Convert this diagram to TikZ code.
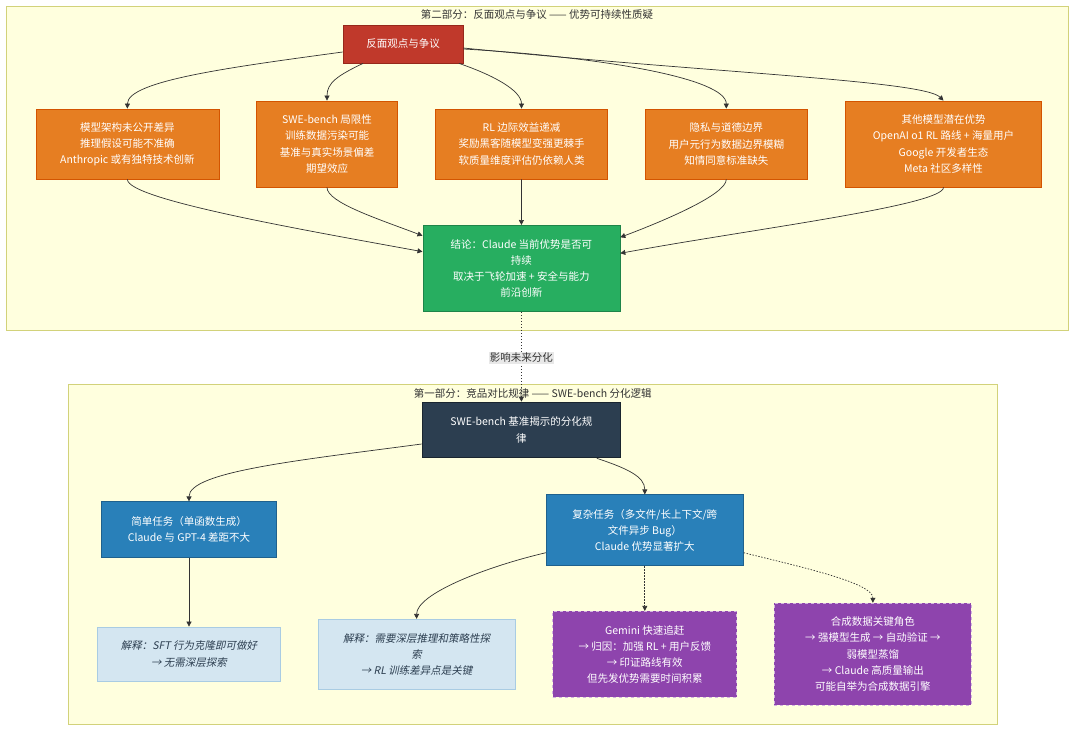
\documentclass[tikz,border=0pt]{standalone}
\usepackage{fontspec}
\setmainfont{Noto Sans CJK SC}
\newfontfamily\itfont[FakeSlant=0.2]{Noto Sans CJK SC}
\usetikzlibrary{arrows.meta}
\definecolor{clfill}{HTML}{FFFFDE}
\definecolor{cldraw}{HTML}{D2D27A}
\definecolor{redf}{HTML}{C0392B}
\definecolor{redd}{HTML}{96281B}
\definecolor{orf}{HTML}{E67E22}
\definecolor{ord}{HTML}{D35400}
\definecolor{grf}{HTML}{27AE60}
\definecolor{grd}{HTML}{1E8449}
\definecolor{dkf}{HTML}{2C3E50}
\definecolor{dkd}{HTML}{1A252F}
\definecolor{blf}{HTML}{2980B9}
\definecolor{bld}{HTML}{1F618D}
\definecolor{ltf}{HTML}{D4E6F1}
\definecolor{ltd}{HTML}{A9CCE3}
\definecolor{puf}{HTML}{8E44AD}
\definecolor{pud}{HTML}{D2B4DE}
\definecolor{edge}{HTML}{333333}
\tikzset{
  txt/.style={font=\fontsize{10.5}{16.2}\selectfont, align=center, inner sep=0pt},
  box/.style={txt, draw, line width=0.8pt, text=white},
  redbox/.style={box, fill=redf, draw=redd},
  orbox/.style={box, fill=orf, draw=ord},
  grbox/.style={box, fill=grf, draw=grd},
  dkbox/.style={box, fill=dkf, draw=dkd, line width=1.6pt},
  blbox/.style={box, fill=blf, draw=bld},
  ltbox/.style={txt, draw=ltd, fill=ltf, line width=0.8pt, text=dkf, font=\fontsize{10.5}{16.2}\itfont},
  pubox/.style={box, fill=puf, draw=pud, dashed},
  arr/.style={draw=edge, line width=0.7pt, -{Triangle[length=5pt,width=5pt]}},
  dotarr/.style={arr, dash pattern=on 1.5pt off 1.5pt},
  cluster/.style={fill=clfill, draw=cldraw, line width=0.9pt},
  cltitle/.style={txt, text=edge},
}
\begin{document}
\begin{tikzpicture}[x=1pt,y=-1pt]
\useasboundingbox (0,0) rectangle (1080,734);
% clusters
\draw[cluster] (6,6) rectangle (1068,330);
\node[cltitle] (t2) at (537,15) {第二部分：反面观点与争议 —— 优势可持续性质疑};
\draw[cluster] (68,384) rectangle (997,724);
\node[cltitle] (t1) at (532.7,393) {第一部分：竞品对比规律 —— SWE-bench 分化逻辑};

% top nodes
\node[redbox, minimum width=120, minimum height=38] (r) at (403,44) {反面观点与争议};
\node[orbox, minimum width=183, minimum height=70] (o1) at (127.4,144) {模型架构未公开差异\\推理假设可能不准确\\Anthropic 或有独特技术创新};
\node[orbox, minimum width=141, minimum height=86] (o2) at (327,144) {SWE-bench 局限性\\训练数据污染可能\\基准与真实场景偏差\\期望效应};
\node[orbox, minimum width=172, minimum height=70] (o3) at (521.5,144) {RL 边际效益递减\\奖励黑客随模型变强更棘手\\软质量维度评估仍依赖人类};
\node[orbox, minimum width=162, minimum height=70] (o4) at (726.3,144) {隐私与道德边界\\用户元行为数据边界模糊\\知情同意标准缺失};
\node[orbox, minimum width=196, minimum height=86] (o5) at (943.5,144) {其他模型潜在优势\\OpenAI o1 RL 路线 + 海量用户\\Google 开发者生态\\Meta 社区多样性};
\node[grbox, minimum width=197, minimum height=86] (g) at (521.4,268.4) {结论：Claude 当前优势是否可\\持续\\取决于飞轮加速 + 安全与能力\\前沿创新};

% bottom nodes
\node[dkbox, minimum width=198, minimum height=55] (d) at (521.4,430) {SWE-bench 基准揭示的分化规\\律};
\node[blbox, minimum width=175, minimum height=56] (s) at (189,529.8) {简单任务（单函数生成）\\Claude 与 GPT-4 差距不大};
\node[blbox, minimum width=197, minimum height=71] (c) at (644.8,530.3) {复杂任务（多文件/长上下文/跨\\文件异步 Bug）\\Claude 优势显著扩大};
\node[ltbox, minimum width=183, minimum height=54] (e1) at (189,654) {解释：SFT 行为克隆即可做好\\→ 无需深层探索};
\node[ltbox, minimum width=197, minimum height=70] (e2) at (416.6,654.3) {解释：需要深层推理和策略性探\\索\\→ RL 训练差异点是关键};
\node[pubox, minimum width=184, minimum height=86] (gm) at (644.8,654.3) {Gemini 快速追赶\\→ 归因：加强 RL + 用户反馈\\→ 印证路线有效\\但先发优势需要时间积累};
\node[pubox, minimum width=197, minimum height=102] (sy) at (872.9,654.2) {合成数据关键角色\\→ 强模型生成 → 自动验证 →\\弱模型蒸馏\\→ Claude 高质量输出\\可能自举为合成数据引擎};

% top edges
\draw[arr] ([yshift=-8]r.west) .. controls +(-110,15) and +(0,-28) .. (o1.north);
\draw[arr] ([xshift=-40]r.south) .. controls +(-25,12) and +(0,-18) .. (o2.north);
\draw[arr] ([xshift=56]r.south) .. controls +(35,12) and +(0,-18) .. (o3.north);
\draw[arr] ([yshift=-5]r.east) .. controls +(140,8) and +(0,-30) .. (o4.north);
\draw[arr] ([yshift=-4]r.east) .. controls +(250,25) and +(-20,-20) .. (o5.north);

\draw[arr] (o1.south) .. controls +(0,20) and +(-120,-22) .. ([yshift=16.7]g.west);
\draw[arr] (o2.south) .. controls +(0,15) and +(-45,-17) .. ([yshift=32.7]g.west);
\draw[arr] (o3.south) -- (g.north);
\draw[arr] (o4.south) .. controls +(0,15) and +(45,-17) .. ([yshift=31.1]g.east);
\draw[arr] (o5.south) .. controls +(0,18) and +(130,-24) .. ([yshift=15.1]g.east);

% between clusters
\draw[dotarr] (g.south) -- (d.north) node[pos=0.51, txt, fill=black!9, text=edge, inner sep=1pt] (lab) {影响未来分化};

% bottom edges
\draw[arr] ([yshift=-14]d.west) .. controls +(-120,16) and +(0,-30) .. (s.north);
\draw[arr] ([xshift=75.4]d.south) .. controls +(30,10) and +(0,-18) .. (c.north);
\draw[arr] (s.south) -- (e1.north);
\draw[arr] ([yshift=-22.4]c.west) .. controls +(-60,14) and +(0,-25) .. (e2.north);
\draw[dotarr] (c.south) -- (gm.north);
\draw[dotarr] ([yshift=-22.4]c.east) .. controls +(60,15) and +(0,-20) .. (sy.north);
\end{tikzpicture}
\end{document}
